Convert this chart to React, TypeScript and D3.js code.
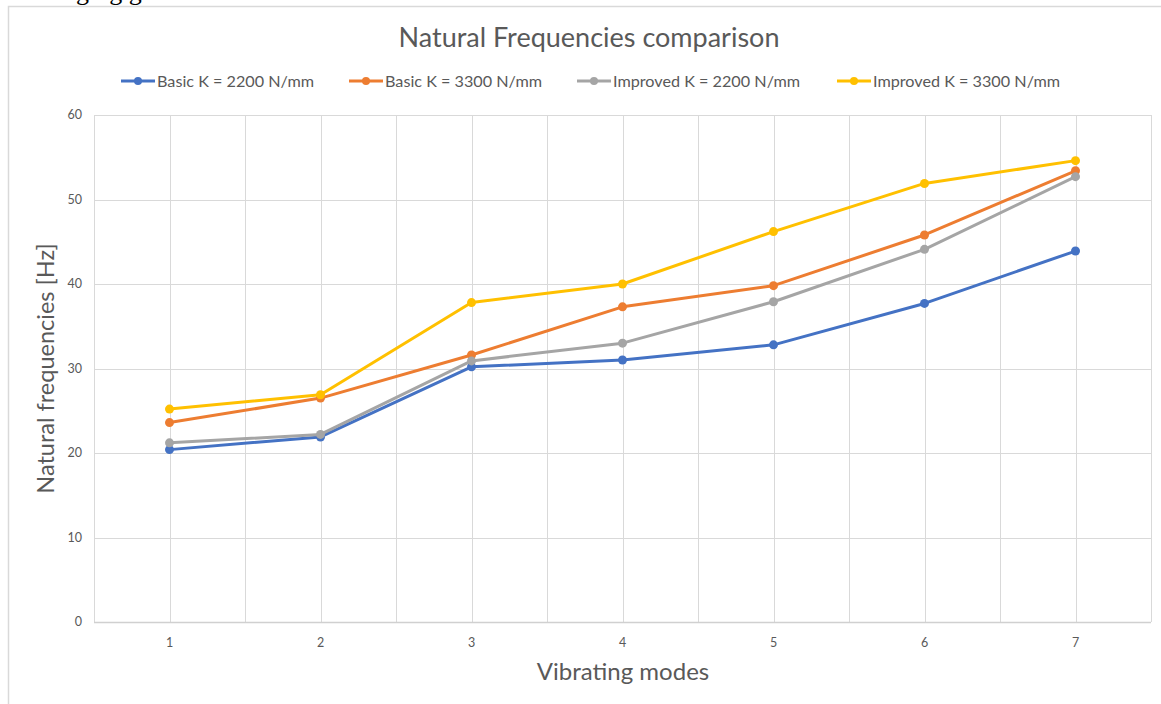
import React, { useEffect, useRef } from 'react';
import * as d3 from 'd3';

// chart values
const modes = [1, 2, 3, 4, 5, 6, 7];
const basic2200 = [20.4, 21.9, 30.2, 31.0, 32.8, 37.7, 43.9];
const basic3300 = [23.6, 26.5, 31.6, 37.3, 39.8, 45.8, 53.4];
const improved2200 = [21.2, 22.2, 30.9, 33.0, 37.9, 44.1, 52.7];
const improved3300 = [25.2, 26.9, 37.8, 40.0, 46.2, 51.9, 54.6];
const seriesNames = ['Basic K = 2200 N/mm', 'Basic K = 3300 N/mm', 'Improved K = 2200 N/mm', 'Improved K = 3300 N/mm'];
const seriesColors = ['#4472C4', '#ED7D31', '#A5A5A5', '#FFC000'];
const yTicks = [0, 10, 20, 30, 40, 50, 60];

export default function App() {
  const ref = useRef<SVGSVGElement>(null);

  useEffect(() => {
    const width = 1161;
    const height = 704;
    const marginLeft = 94;
    const marginRight = 10;
    const marginTop = 115;
    const marginBottom = 82;
    const font = 'Lato, "Open Sans", sans-serif';
    const textColor = '#595959';
    const gridColor = '#d9d9d9';

    const svg = d3.select(ref.current);
    svg.selectAll('*').remove();
    svg.attr('width', width).attr('height', height)
      .style('position', 'absolute').style('left', 0).style('top', 0)
      .style('background', '#fff');

    // bit of document text cut off above the chart
    svg.append('text')
      .attr('x', 76).attr('y', 0)
      .attr('font-family', '"Liberation Serif", serif')
      .attr('font-size', 26)
      .attr('fill', '#000')
      .text('ging g');

    // chart frame
    svg.append('rect')
      .attr('x', 8.5).attr('y', 6.5)
      .attr('width', 1200).attr('height', 800)
      .attr('fill', 'none').attr('stroke', gridColor).attr('stroke-width', 1.5);

    const series = [basic2200, basic3300, improved2200, improved3300].map((vals, i) => ({
      name: seriesNames[i],
      color: seriesColors[i],
      values: vals.map((v, j) => ({ mode: modes[j], v }))
    }));

    const x = d3.scaleBand<number>()
      .domain(modes)
      .range([marginLeft, width - marginRight]);

    const y = d3.scaleLinear()
      .domain([0, 60])
      .range([height - marginBottom, marginTop]);

    const grid = svg.append('g').attr('stroke', gridColor).attr('stroke-width', 1);

    // horizontal grid
    grid.selectAll('line.h').data(yTicks.slice(1)).join('line')
      .attr('x1', marginLeft).attr('x2', width - marginRight)
      .attr('y1', d => Math.round(y(d)) + 0.5).attr('y2', d => Math.round(y(d)) + 0.5);

    // vertical grid: band edges and centres
    const vx: number[] = [];
    modes.forEach(m => {
      vx.push(x(m)!);
      vx.push(x(m)! + x.bandwidth() / 2);
    });
    vx.push(width - marginRight);
    grid.selectAll('line.v').data(vx).join('line')
      .attr('x1', d => Math.round(d) + 0.5).attr('x2', d => Math.round(d) + 0.5)
      .attr('y1', marginTop).attr('y2', height - marginBottom);

    // x axis line
    svg.append('line')
      .attr('x1', marginLeft).attr('x2', width - marginRight)
      .attr('y1', Math.round(y(0)) + 0.5).attr('y2', Math.round(y(0)) + 0.5)
      .attr('stroke', '#d0d0d0').attr('stroke-width', 1.5);

    // tick labels
    svg.append('g').selectAll('text').data(yTicks).join('text')
      .attr('x', 82).attr('y', d => y(d) + 4)
      .attr('text-anchor', 'end')
      .attr('font-family', font).attr('font-size', 12.5).attr('fill', textColor)
      .text(d => d);

    svg.append('g').selectAll('text').data(modes).join('text')
      .attr('x', d => x(d)! + x.bandwidth() / 2).attr('y', y(0) + 25)
      .attr('text-anchor', 'middle')
      .attr('font-family', font).attr('font-size', 12.5).attr('fill', textColor)
      .text(d => d);

    // axis titles
    svg.append('text')
      .attr('x', 623).attr('y', 680)
      .attr('text-anchor', 'middle')
      .attr('font-family', font).attr('font-size', 24).attr('fill', textColor)
      .text('Vibrating modes');

    svg.append('text')
      .attr('transform', `translate(54,${(marginTop + height - marginBottom) / 2}) rotate(-90)`)
      .attr('text-anchor', 'middle')
      .attr('font-family', font).attr('font-size', 23.5).attr('fill', textColor)
      .text('Natural frequencies [Hz]');

    // title
    svg.append('text')
      .attr('x', 589).attr('y', 47)
      .attr('text-anchor', 'middle')
      .attr('font-family', font).attr('font-size', 27).attr('fill', textColor)
      .text('Natural Frequencies comparison');

    // legend
    const legendX = [121, 349, 577, 837];
    const legend = svg.append('g').selectAll('g').data(series).join('g')
      .attr('transform', (d, i) => `translate(${legendX[i]},81)`);
    legend.append('line')
      .attr('x1', 0).attr('x2', 34)
      .attr('stroke', d => d.color).attr('stroke-width', 3);
    legend.append('circle')
      .attr('cx', 17).attr('r', 4)
      .attr('fill', d => d.color);
    legend.append('text')
      .attr('x', 36).attr('y', 5.5)
      .attr('font-family', font).attr('font-size', 16.2).attr('fill', textColor)
      .text(d => d.name);

    // lines
    const line = d3.line<{ mode: number; v: number }>()
      .x(d => x(d.mode)! + x.bandwidth() / 2)
      .y(d => y(d.v));

    const sg = svg.append('g').selectAll('g').data(series).join('g');
    sg.append('path')
      .attr('d', d => line(d.values))
      .attr('fill', 'none')
      .attr('stroke', d => d.color)
      .attr('stroke-width', 3)
      .attr('stroke-linejoin', 'round')
      .attr('stroke-linecap', 'round');
    sg.selectAll('circle').data(d => d.values.map(p => ({ ...p, color: d.color }))).join('circle')
      .attr('cx', d => x(d.mode)! + x.bandwidth() / 2)
      .attr('cy', d => y(d.v))
      .attr('r', 4.5)
      .attr('fill', d => d.color);
  }, []);

  return <svg ref={ref}></svg>;
}
